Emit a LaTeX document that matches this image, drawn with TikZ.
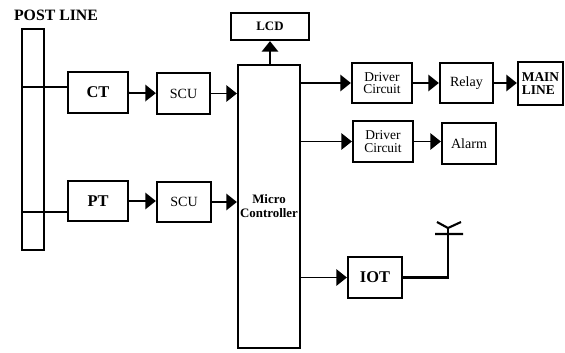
\documentclass[tikz,border=0pt]{standalone}
\usepackage{fontspec}
\setmainfont{Liberation Serif}
\usetikzlibrary{arrows.meta,positioning}

\begin{document}
\begin{tikzpicture}[
  x=0.3mm, y=-0.3mm,
  >={Triangle[length=9pt,width=14pt]},
  blk/.style={draw, line width=1.9pt, inner sep=1pt, align=center, font=\fontsize{11.5}{10.5}\selectfont},
  bblk/.style={blk, font=\fontsize{14}{14}\bfseries\selectfont},
  arr/.style={->, line width=1.5pt},
  wire/.style={line width=1.4pt}
]
\useasboundingbox (0,0) rectangle (565,352);
% post and sensors
\node[font=\fontsize{13.5}{14}\bfseries\selectfont] (postlbl) at (56,15) {POST LINE};
\node[draw, line width=1.3pt, minimum width=6.6mm, minimum height=66.3mm] (post) at (33,139.5) {};
\node[bblk, minimum width=18mm, minimum height=12.3mm] (ct) at (98,92.5) {CT};
\node[bblk, minimum width=18mm, minimum height=12mm] (pt) at (98,201) {PT};
\node[blk, font=\fontsize{12}{12}\selectfont, minimum width=15.9mm, minimum height=12.3mm] (scua) at (183.5,93.5) {SCU};
\node[blk, font=\fontsize{12}{12}\selectfont, minimum width=16.2mm, minimum height=12mm] (scub) at (184,202) {SCU};
% controller
\node[blk, font=\fontsize{11}{12}\bfseries\selectfont, minimum width=18.6mm, minimum height=84.9mm] (mc) at (269,206.5) {Micro\\Controller};
\node[blk, font=\fontsize{11}{11}\bfseries\selectfont, minimum width=23.4mm, minimum height=8.1mm] (lcd) at (270,26.5) {LCD};
% outputs
\node[blk, minimum width=18mm, minimum height=12mm] (drva) at (382,83) {Driver\\Circuit};
\node[blk, font=\fontsize{12}{12}\selectfont, minimum width=15.9mm, minimum height=12mm] (relay) at (466.5,83) {Relay};
\node[blk, font=\fontsize{11.5}{11}\bfseries\selectfont, align=left, minimum width=13.5mm, minimum height=12.9mm] (mainline) at (540.5,83.5) {MAIN\\LINE};
\node[blk, minimum width=18mm, minimum height=12.3mm] (drvb) at (383,141.5) {Driver\\Circuit};
\node[blk, font=\fontsize{12}{12}\selectfont, minimum width=16.2mm, minimum height=12.3mm] (alarm) at (469,143.5) {Alarm};
\node[bblk, minimum width=16.2mm, minimum height=12.3mm] (iot) at (375,277.5) {IOT};
\coordinate (ant) at (448,228);

\draw[wire] (post.west |- 0,87) -- (ct.west |- 0,87);
\draw[wire] (post.west |- 0,212) -- (pt.west |- 0,212);
\draw[arr] (ct) -- (scua);
\draw[arr] (scua.east) -- (scua.east -| mc.west);
\draw[arr] (pt.east) -- (pt.east -| scub.west);
\draw[arr] (scub.east) -- (scub.east -| mc.west);
\draw[arr] (lcd.south |- mc.north) -- (lcd.south);
\draw[arr] (mc.east |- drva) -- (drva);
\draw[arr] (drva) -- (relay);
\draw[arr] (relay.east) -- (relay.east -| mainline.west);
\draw[arr] (mc.east |- drvb) -- (drvb);
\draw[arr] (drvb.east) -- (drvb.east -| alarm.west);
\draw[arr] (mc.east |- iot) -- (iot);
\draw[line width=2.4pt] (iot.east) -| (ant);
% antenna
\draw[line width=1.8pt] (ant) -- ++(-11,-6) (ant) -- ++(13,-6) (435,234) -- (463,234);
\end{tikzpicture}
\end{document}
